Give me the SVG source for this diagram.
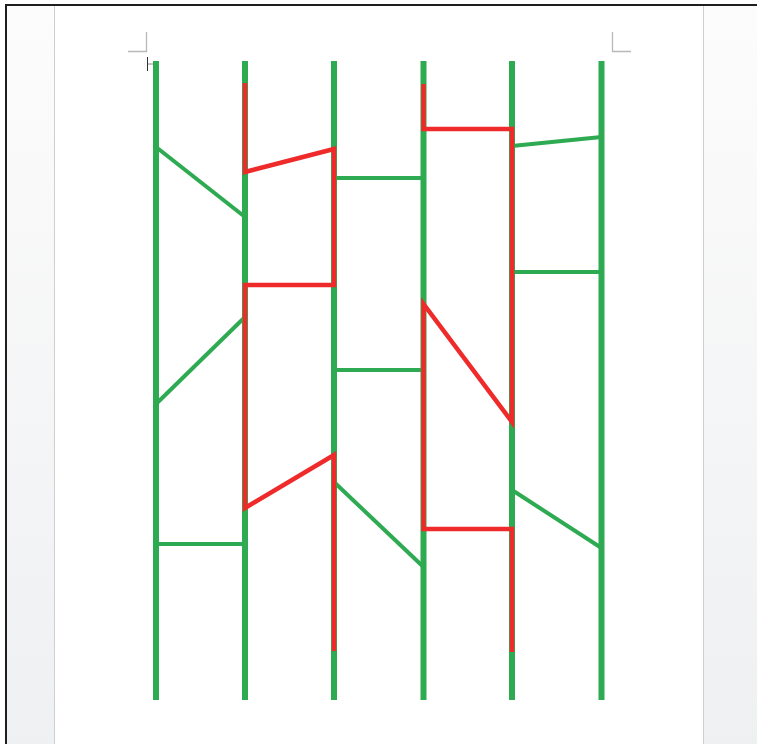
<svg xmlns="http://www.w3.org/2000/svg" width="757" height="744" viewBox="0 0 757 744">
<defs>
<linearGradient id="bg" x1="0" y1="0" x2="0" y2="1">
<stop offset="0" stop-color="#fcfcfc"/>
<stop offset="1" stop-color="#eff0f2"/>
</linearGradient>
<style>
.rail{stroke:#2eaa52;stroke-width:6;fill:none}
.g{stroke:#2eaa52;stroke-width:4;fill:none}
.r{stroke:#ee2a2a;stroke-width:4.5;fill:none;stroke-linejoin:miter}
.mark{stroke:#b8b8b8;stroke-width:1.3;fill:none}
</style>
</defs>
<rect x="0" y="0" width="757" height="744" fill="#ffffff"/>
<rect x="7" y="6" width="750" height="738" fill="url(#bg)"/>
<rect x="55" y="6" width="648" height="738" fill="#ffffff"/>
<line x1="54.5" y1="6" x2="54.5" y2="744" stroke="#cfcfcf" stroke-width="1"/>
<line x1="703.5" y1="6" x2="703.5" y2="744" stroke="#cfcfcf" stroke-width="1"/>
<line x1="6" y1="5" x2="757" y2="5" stroke="#1e1e1e" stroke-width="2"/>
<line x1="6" y1="4" x2="6" y2="744" stroke="#1e1e1e" stroke-width="2"/>
<g id="corner-marks">
<polyline class="mark" points="146.5,32 146.5,51.5 128,51.5"/>
<polyline class="mark" points="612.5,32 612.5,51.5 631,51.5"/>
</g>
<g id="cursor">
<line x1="147.5" y1="57" x2="147.5" y2="71" stroke="#333" stroke-width="1"/>
<line x1="148" y1="64" x2="153" y2="64" stroke="#888" stroke-width="1"/>
</g>
<g id="rails">
<g id="rail1"><line class="rail" x1="156" y1="61" x2="156" y2="700"/></g>
<g id="rail2"><line class="rail" x1="245" y1="61" x2="245" y2="700"/></g>
<g id="rail3"><line class="rail" x1="334" y1="61" x2="334" y2="700"/></g>
<g id="rail4"><line class="rail" x1="423.5" y1="61" x2="423.5" y2="700"/></g>
<g id="rail5"><line class="rail" x1="512" y1="61" x2="512" y2="700"/></g>
<g id="rail6"><line class="rail" x1="601.5" y1="61" x2="601.5" y2="700"/></g>
</g>
<g id="connectors">
<line class="g" x1="156" y1="147" x2="245" y2="217"/>
<line class="g" x1="156" y1="404" x2="245" y2="317"/>
<line class="g" x1="156" y1="544" x2="245" y2="544"/>
<line class="g" x1="334" y1="178" x2="423.5" y2="178"/>
<line class="g" x1="334" y1="370" x2="423.5" y2="370"/>
<line class="g" x1="334" y1="482" x2="423.5" y2="567"/>
<line class="g" x1="512" y1="146" x2="601.5" y2="137"/>
<line class="g" x1="512" y1="272" x2="601.5" y2="272"/>
<line class="g" x1="512" y1="490" x2="601.5" y2="548"/>
</g>
<g id="red-paths">
<polyline class="r" points="245,83 245,172 334,149 334,285 245,285 245,508 334,455 334,651"/>
<polyline class="r" points="423.5,84 423.5,129 512,129 512,422 423.5,304 423.5,529 512,529 512,652"/>
</g>
</svg>
